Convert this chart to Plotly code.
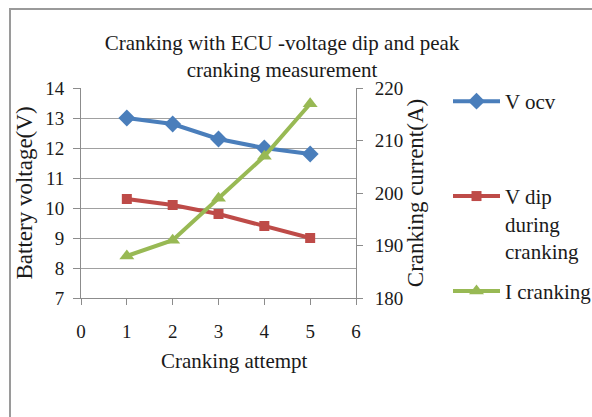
import plotly.graph_objects as go

attempts = [1, 2, 3, 4, 5]
v_ocv = [13.0, 12.8, 12.3, 12.0, 11.8]
v_dip = [10.3, 10.1, 9.8, 9.4, 9.0]
i_crank = [188, 191, 199, 207, 217]

names = ["V ocv<br> <br> ", "V dip<br>during<br>cranking", "I cranking"]
title_text = "Cranking with ECU -voltage dip and peak<br>cranking measurement"
x_title = "Cranking attempt"

FONT = "Liberation Serif"
BLUE = "#4A7EBB"
RED = "#BE4B48"
GREEN = "#98B954"
AXC = "#8c8c8c"

fig = go.Figure()
fig.add_trace(go.Scatter(x=attempts, y=v_ocv, name=names[0], mode="lines+markers",
                         line=dict(color=BLUE, width=4), legendgroup="a",
                         marker=dict(symbol="diamond", size=13, color=BLUE)))
fig.add_trace(go.Scatter(x=attempts, y=v_dip, name=names[1], mode="lines+markers",
                         line=dict(color=RED, width=4), legendgroup="b",
                         marker=dict(symbol="square", size=10, color=RED)))
fig.add_trace(go.Scatter(x=attempts, y=i_crank, name=names[2], mode="lines+markers",
                         line=dict(color=GREEN, width=4), legendgroup="c", yaxis="y2",
                         marker=dict(symbol="triangle-up", size=13, color=GREEN)))

L, R, T, B = 81, 236, 88, 119
W, H = 592, 417
pw, ph = W - L - R, H - T - B

def px(x):
    return (x - L) / pw

def py(y):
    return (H - B - y) / ph

fig.add_shape(type="rect", xref="paper", yref="paper",
              x0=px(10), x1=px(610), y0=py(430), y1=py(9),
              line=dict(color="#9a9a9a", width=2), fillcolor="rgba(0,0,0,0)", layer="below")

fig.add_annotation(text=x_title, xref="paper", yref="paper", x=px(234), y=py(361),
                   xanchor="center", yanchor="middle", showarrow=False,
                   font=dict(family=FONT, size=21, color="#1a1a1a"))

fig.update_layout(
    width=W, height=H,
    margin=dict(l=L, r=R, t=T, b=B, autoexpand=False),
    paper_bgcolor="white", plot_bgcolor="white",
    font=dict(family=FONT, size=20, color="#1a1a1a"),
    title=dict(text=title_text, x=282 / W, xanchor="center", y=1 - 50 / H, yanchor="middle",
               font=dict(family=FONT, size=21, color="#1a1a1a")),
    xaxis=dict(range=[0, 6], dtick=1, tick0=0, ticks="outside", ticklen=6, tickcolor=AXC,
               showline=True, linecolor=AXC, linewidth=1, showgrid=False, zeroline=False,
               tickfont=dict(size=19), ticklabelstandoff=10),
    yaxis=dict(range=[7, 14], dtick=1, ticks="outside", ticklen=7, tickcolor=AXC,
               showline=True, linecolor=AXC, linewidth=1, showgrid=True, gridcolor="#a0a0a0",
               zeroline=False, tickfont=dict(size=19), ticklabelstandoff=5,
               title=dict(text="Battery voltage(V)", font=dict(size=23), standoff=6)),
    yaxis2=dict(range=[180, 220], dtick=10, overlaying="y", side="right", ticks="outside",
                ticklen=6, tickcolor=AXC, showline=True, linecolor=AXC, linewidth=1,
                showgrid=False, zeroline=False, tickfont=dict(size=19), ticklabelstandoff=8,
                title=dict(text="Cranking current(A)", font=dict(size=23), standoff=0)),
    legend=dict(x=px(448), xanchor="left", y=py(81), yanchor="top", valign="top",
                tracegroupgap=10, font=dict(size=21), bgcolor="rgba(0,0,0,0)",
                itemwidth=47, maxheight=400),
    showlegend=True,
)

fig.write_html("out.html")
